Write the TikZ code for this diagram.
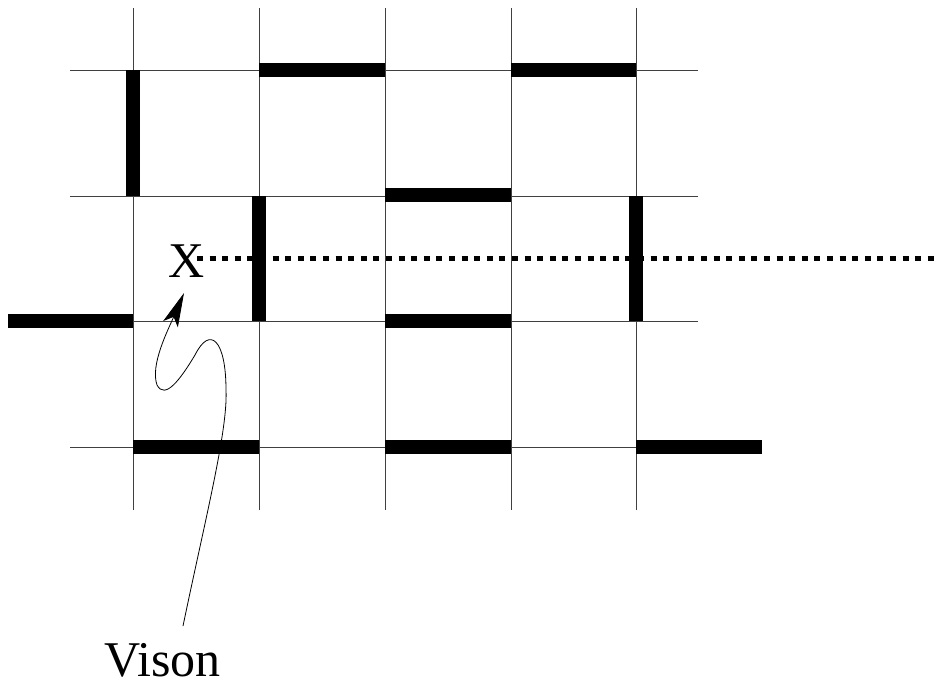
\documentclass[tikz,border=0pt]{standalone}
\usepackage{fontspec}
\setmainfont{Liberation Serif}
\usetikzlibrary{arrows.meta}
\begin{document}
\begin{tikzpicture}[x=1pt,y=-1pt,
  gridline/.style={line width=0.9pt, black!75},
  bond/.style={line width=14pt, line cap=butt},
  string/.style={line width=5pt, dash pattern=on 6pt off 6.6pt},
  lbl/.style={inner sep=0pt, font=\fontsize{50}{52}\selectfont}]
\useasboundingbox (0,0) rectangle (936,683);
% grid
\foreach \x in {133,259,385,511,636} \draw[gridline] (\x,8) -- (\x,510);
\foreach \y in {70,196,321,447} \draw[gridline] (70,\y) -- (698,\y);
% dimer bonds
\draw[bond] (133,70) -- (133,196);
\draw[bond] (259,70) -- (385,70);
\draw[bond] (511,70) -- (636,70);
\draw[bond] (385,195) -- (511,195);
\draw[bond] (259,196) -- (259,321);
\draw[bond] (636,196) -- (636,321);
\draw[bond] (8,321) -- (133,321);
\draw[bond] (385,321) -- (511,321);
\draw[bond] (133,447) -- (259,447);
\draw[bond] (385,447) -- (511,447);
\draw[bond] (636,447) -- (762,447);
% labels
\node[lbl, anchor=base] (X) at (187,277) {X};
\node[lbl, anchor=base west] (V) at (104,676) {Vison};
% string
\coordinate (sstart) at (197,258);
\coordinate (send) at (936,258);
\draw[string] (sstart) -- (send);
% arrow
\coordinate (a0) at (183,626);
\coordinate (a1) at (226,390);
\coordinate (a2) at (195,355);
\coordinate (a3) at (157,385);
\coordinate (a4) at (184,293);
\draw[line width=0.8pt, -{Stealth[length=34pt,width=16pt,inset=8pt]}]
  (a0) .. controls (205,520) and (228,430) .. (a1)
  .. controls (226,340) and (210,325) .. (a2)
  .. controls (180,380) and (165,400) .. (a3)
  .. controls (150,365) and (168,330) .. (a4);
\end{tikzpicture}
\end{document}
